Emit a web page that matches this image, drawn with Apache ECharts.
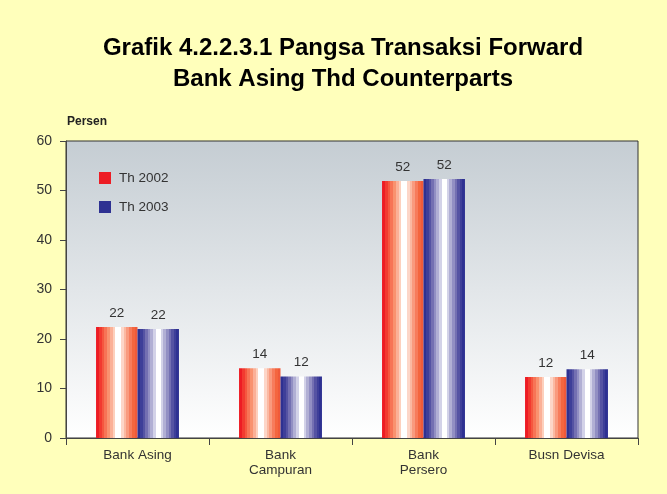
<!DOCTYPE html>
<html>
<head>
<meta charset="utf-8">
<script src="https://cdn.jsdelivr.net/npm/echarts@6/dist/echarts.min.js"></script>
<style>
html,body{margin:0;padding:0;background:#ffffbb;}
#c{width:667px;height:494px;}
</style>
</head>
<body>
<div id="c"></div>
<script>
var categories = ['Bank Asing', 'Bank\nCampuran', 'Bank\nPersero', 'Busn Devisa'];
var th2002 = [22.4, 14.1, 51.9, 12.3];
var th2003 = [22.0, 12.4, 52.3, 13.9];
var yTicks = [0, 10, 20, 30, 40, 50, 60];

var redBands = ['#ed1c24','#f23a30','#f5573f','#f77456','#f9926f','#fbb097','#fdd0bd','#ffffff','#ffffff','#fdd6c8','#fbb9a2','#f99a7e','#f77c5c','#f4663f','#f05a3a'];
var blueBands = ['#2e3192','#3e3f99','#5553a3','#7470b2','#928fc3','#b1afd4','#d3d2e8','#ffffff','#ffffff','#d3d2e8','#b1afd4','#928fc3','#7470b2','#5553a3','#3e3f99','#2e3192'];

function banded(cols){
  var stops = [], n = cols.length;
  for (var i = 0; i < n; i++){
    stops.push({offset: i / n, color: cols[i]});
    stops.push({offset: (i + 1) / n - 0.0001, color: cols[i]});
  }
  return {type:'linear', x:0, y:0, x2:1, y2:0, colorStops: stops};
}

var chart = echarts.init(document.getElementById('c'));
var font = '"Liberation Sans", Arial, sans-serif';
chart.setOption({
  backgroundColor: '#ffffbb',
  animation: false,
  textStyle: {fontFamily: font},
  title: {
    text: 'Grafik 4.2.2.3.1 Pangsa Transaksi Forward\nBank Asing Thd Counterparts',
    left: 338, top: 28, textAlign: 'center',
    textStyle: {fontFamily: font, fontSize: 24, fontWeight: 'bold', color: '#000', lineHeight: 31}
  },
  legend: {
    orient: 'vertical', left: 94, top: 166, itemWidth: 12, itemHeight: 12, itemGap: 15,
    icon: 'rect',
    textStyle: {fontFamily: font, fontSize: 13.5, color: '#333', padding: [0,0,0,3]},
    data: [
      {name: 'Th 2002', itemStyle: {color: '#ed1c24'}},
      {name: 'Th 2003', itemStyle: {color: '#2e3192'}}
    ]
  },
  grid: {
    left: 66, top: 141, right: 29, bottom: 56, show: true,
    borderColor: '#333', borderWidth: 1,
    backgroundColor: {type:'linear', x:0, y:0, x2:0, y2:1, colorStops:[{offset:0,color:'#c5cdd3'},{offset:1,color:'#ffffff'}]}
  },
  xAxis: {
    type: 'category', data: categories,
    axisLine: {lineStyle: {color: '#444'}},
    axisTick: {show: true, length: 7, lineStyle: {color: '#444'}},
    axisLabel: {fontFamily: font, fontSize: 13.5, color: '#333', margin: 10, lineHeight: 15, interval: 0}
  },
  yAxis: {
    type: 'value', min: yTicks[0], max: yTicks[yTicks.length-1], interval: 10,
    name: 'Persen', nameLocation: 'end', nameGap: 13,
    nameTextStyle: {fontFamily: font, fontSize: 12, fontWeight: 'bold', color: '#222', align: 'left', padding: [0,0,0,1]},
    axisLine: {show: true, lineStyle: {color: '#444'}},
    axisTick: {show: true, length: 6, lineStyle: {color: '#444'}},
    splitLine: {show: false},
    axisLabel: {fontFamily: font, fontSize: 14, color: '#333', margin: 14}
  },
  series: [
    {
      name: 'Th 2002', type: 'bar', data: th2002,
      barGap: '0%', barCategoryGap: '42%',
      itemStyle: {color: banded(redBands)},
      label: {show: true, position: 'top', distance: 7, fontFamily: font, fontSize: 13.5, color: '#333',
        formatter: function(p){ return Math.round(p.value); }}
    },
    {
      name: 'Th 2003', type: 'bar', data: th2003,
      barGap: '0%', barCategoryGap: '42%',
      itemStyle: {color: banded(blueBands)},
      label: {show: true, position: 'top', distance: 7, fontFamily: font, fontSize: 13.5, color: '#333',
        formatter: function(p){ return Math.round(p.value); }}
    }
  ]
});
</script>
</body>
</html>
